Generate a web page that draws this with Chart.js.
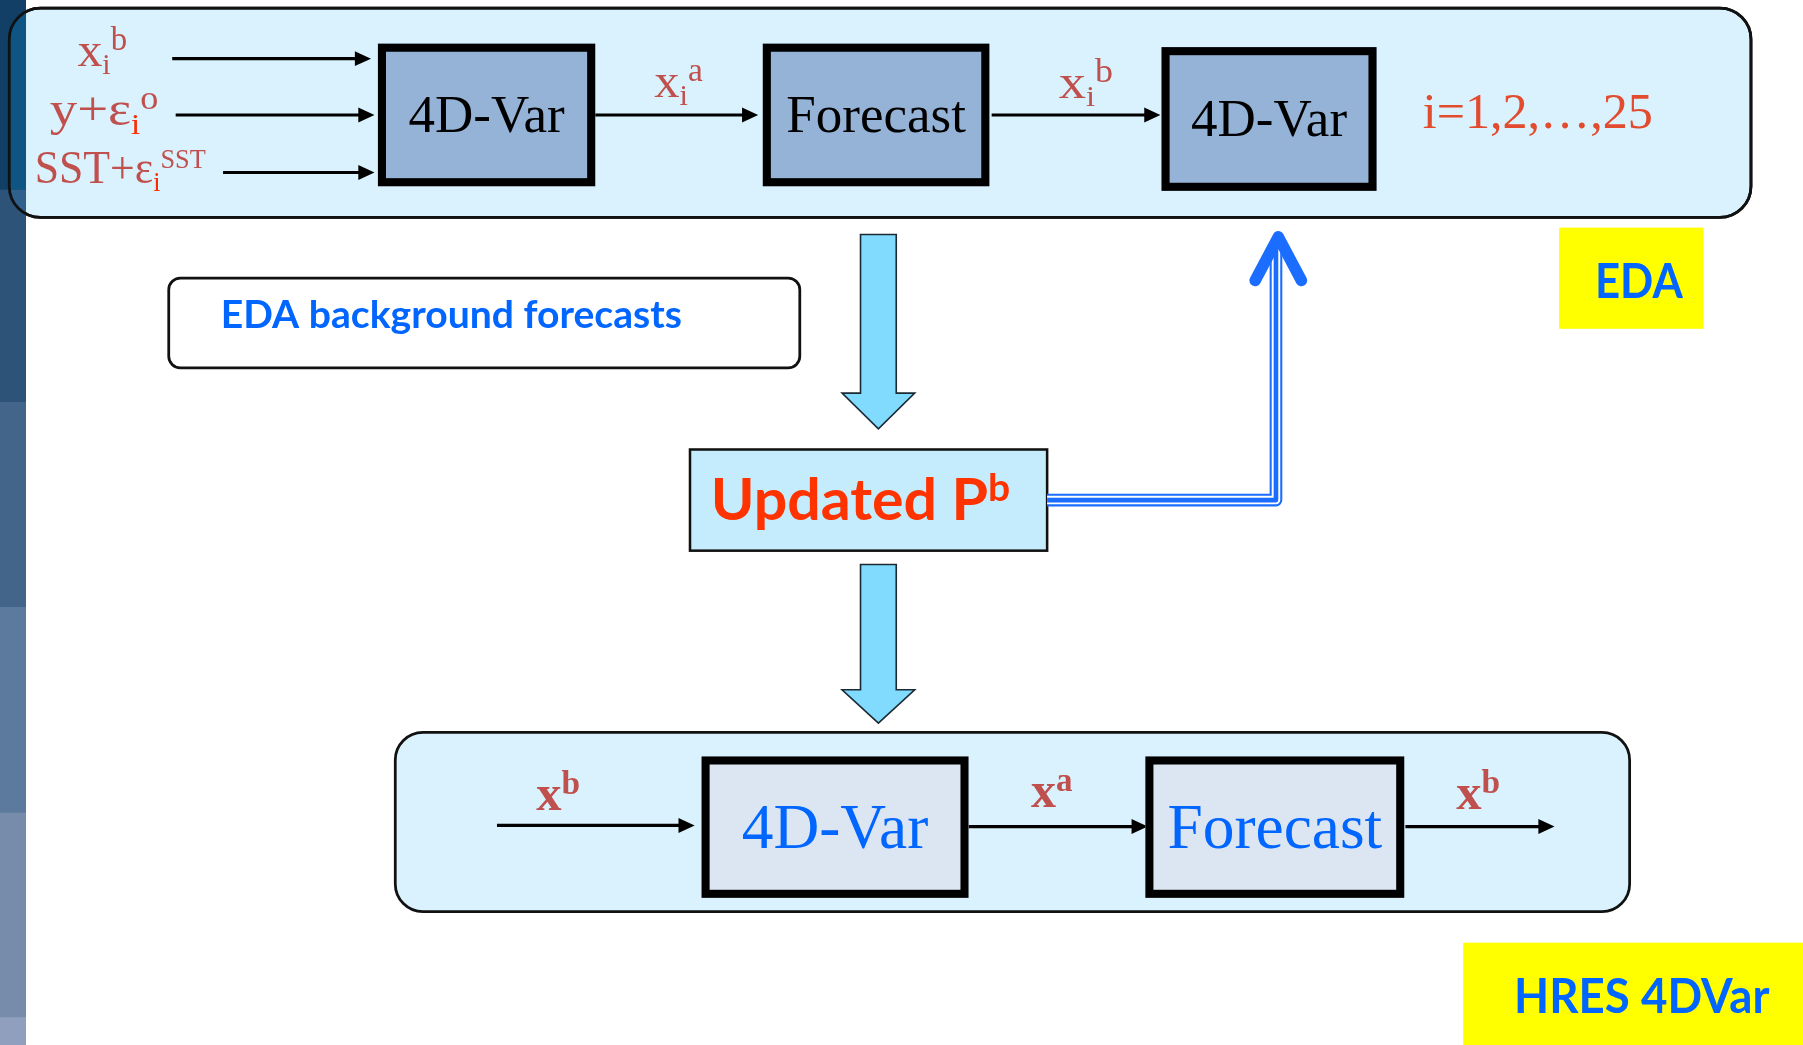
<!DOCTYPE html>
<html><head><meta charset="utf-8">
<script src="https://cdn.jsdelivr.net/npm/chart.js@4"></script>
<style>html,body{margin:0;padding:0;background:#fff;overflow:hidden}#wrap{width:1803px;height:1045px;position:relative}</style>
</head><body><div id="wrap"><canvas id="c"></canvas></div>
<script>
// ---- diagram data (reference units: 1560 x 909) ----
const extentX = [0, 1560];
const extentY = [0, 909];

// rounded containers: EDA panel, note box, HRES panel
const panelNames = ['EDA', 'note', 'HRES'];
const panelX0 = [8, 146, 342];
const panelX1 = [1515, 692, 1410];
const panelY0 = [7, 242, 637];
const panelY1 = [189, 320, 793];

// process boxes
const procLabels = ['4D-Var', 'Forecast', '4D-Var', '4D-Var', 'Forecast'];
const procX0 = [327, 660, 1005, 607, 991];
const procX1 = [515, 856, 1191, 838, 1215];
const procY0 = [38, 38, 41, 658, 658];
const procY1 = [162, 162, 166, 781, 781];

// thin flow arrows
const flowX0 = [149, 152, 193, 515, 858, 430, 838, 1216];
const flowX1 = [321, 324, 324, 656, 1004, 601, 993, 1345];
const flowY  = [51, 100, 150, 100, 100, 718, 719, 719];

// variable labels (base, subscript, superscript)
const varBase = ['x', 'y+ε', 'SST+ε', 'x', 'x', 'x', 'x', 'x'];
const varSub  = ['i', 'i', 'i', 'i', 'i', '', '', ''];
const varSup  = ['b', 'o', 'SST', 'a', 'b', 'b', 'a', 'b'];
const varX    = [67, 43, 30, 566, 916, 464, 892, 1260];
const varY    = [57, 109, 159, 84, 85, 705, 702, 704];
const varW    = [43, 94, 148, 42, 47, 38, 36, 38];

// ensemble member text
const memberText = 'i=1,2,…,25';
const memberPos = [1231, 111, 1430];

// block arrows (centre x, top, neck, tip)
const blockCX = [760, 760];
const blockTop = [204, 491];
const blockNeck = [342, 600];
const blockTip = [373, 629];

// updated Pb box
const pbBox = [597, 391, 906, 479];

// triple-line feedback path
const fbX = [906, 1104, 1104];
const fbY = [435, 435, 214];
const chevX = [1086, 1106, 1126];
const chevY = [244, 206, 244];

// yellow tags
const tagLabels = ['EDA', 'HRES 4DVar'];
const tagX0 = [1349, 1266];
const tagX1 = [1474, 1560];
const tagY0 = [198, 820];
const tagY1 = [286, 909];
const tagTextX = [1380, 1310];
const tagTextY = [259, 881];
const tagTextW = [76, 221];

// left decorative strip bands
const stripBands = [0, 165, 350, 528, 707, 885, 909];

const diagram = {
  id: 'diagram',
  afterDraw(chart) {
    const ctx = chart.ctx;
    const xs = chart.scales.x, ys = chart.scales.y;
    const X = v => xs.getPixelForValue(v);
    const Y = v => ys.getPixelForValue(v);
    const k = (chart.chartArea.width / 1560 + chart.chartArea.height / 909) / 2;
    const serif = '"Liberation Serif", "Times New Roman", serif';
    const sans = 'Lato, "Open Sans", sans-serif';

    function rrect(x0, y0, x1, y1, r) {
      ctx.beginPath();
      ctx.moveTo(x0 + r, y0);
      ctx.lineTo(x1 - r, y0);
      ctx.arcTo(x1, y0, x1, y0 + r, r);
      ctx.lineTo(x1, y1 - r);
      ctx.arcTo(x1, y1, x1 - r, y1, r);
      ctx.lineTo(x0 + r, y1);
      ctx.arcTo(x0, y1, x0, y1 - r, r);
      ctx.lineTo(x0, y0 + r);
      ctx.arcTo(x0, y0, x0 + r, y0, r);
      ctx.closePath();
    }

    function rich(x, y, parts, family, weight, size, fitW, supScale) {
      const ss = supScale || 0.66;
      let w = 0;
      const items = parts.map(p => {
        const s = p[1] === 'n' ? size : (p[1] === 'sup' ? size * ss : size * 0.6);
        ctx.font = `${weight} ${s}px ${family}`;
        const m = ctx.measureText(p[0]).width;
        const it = { t: p[0], k: p[1], c: p[2], s, m, x: w };
        w += m;
        return it;
      });
      ctx.save();
      ctx.translate(x, y);
      if (fitW) {
        let f = fitW / w;
        f = Math.max(0.8, Math.min(1.2, f));
        ctx.scale(f, 1);
      }
      ctx.textBaseline = 'alphabetic';
      ctx.textAlign = 'left';
      items.forEach(it => {
        ctx.font = `${weight} ${it.s}px ${family}`;
        ctx.fillStyle = it.c;
        let dy = 0;
        if (it.k === 'sup') dy = -size * 0.32;
        if (it.k === 'sub') dy = size * 0.17;
        ctx.fillText(it.t, it.x, dy);
      });
      ctx.restore();
    }

    ctx.save();
    // ---- panels ----
    const panelFill = ['#d9f2fd', '#ffffff', '#d9f2fd'];
    const panelR = [27, 10, 24];
    for (let i = 0; i < panelNames.length; i++) {
      rrect(X(panelX0[i]), Y(panelY0[i]), X(panelX1[i]), Y(panelY1[i]), panelR[i] * k);
      ctx.fillStyle = panelFill[i];
      ctx.fill();
      ctx.lineWidth = 2.4 * k;
      ctx.strokeStyle = '#111';
      ctx.stroke();
    }

    // ---- left strip ----
    const bandCol = ['#123f66', '#2d5478', '#44658a', '#5c7a9e', '#778bab', '#909fbe'];
    const sw = X(22.5);
    for (let b = 0; b < bandCol.length; b++) {
      ctx.fillStyle = bandCol[b];
      ctx.fillRect(0, Y(stripBands[b]), sw, Y(stripBands[b + 1]) - Y(stripBands[b]) + 0.5);
    }
    ctx.save();
    rrect(X(panelX0[0]), Y(panelY0[0]), X(panelX1[0]), Y(panelY1[0]), panelR[0] * k);
    ctx.clip();
    ctx.fillStyle = '#0e5583';
    ctx.fillRect(0, Y(panelY0[0]), sw, Y(stripBands[1]) - Y(panelY0[0]));
    ctx.fillStyle = '#2f618c';
    ctx.fillRect(0, Y(stripBands[1]), sw, Y(panelY1[0]) - Y(stripBands[1]));
    ctx.restore();
    rrect(X(panelX0[0]), Y(panelY0[0]), X(panelX1[0]), Y(panelY1[0]), panelR[0] * k);
    ctx.lineWidth = 2.4 * k;
    ctx.strokeStyle = '#111';
    ctx.stroke();

    // ---- thin flow arrows ----
    for (let i = 0; i < flowX0.length; i++) {
      const hl = 14 * k, hw = 6.5 * k;
      const x0 = X(flowX0[i]), x1 = X(flowX1[i]), y = Y(flowY[i]);
      ctx.beginPath();
      ctx.moveTo(x0, y);
      ctx.lineTo(x1 - hl + 1, y);
      ctx.lineWidth = 2.7 * k;
      ctx.strokeStyle = '#000';
      ctx.stroke();
      ctx.beginPath();
      ctx.moveTo(x1, y);
      ctx.lineTo(x1 - hl, y - hw);
      ctx.lineTo(x1 - hl, y + hw);
      ctx.closePath();
      ctx.fillStyle = '#000';
      ctx.fill();
    }

    // ---- process boxes ----
    for (let i = 0; i < procLabels.length; i++) {
      const top = i < 3;
      const lw = 7 * k;
      const x0 = X(procX0[i]), x1 = X(procX1[i]), y0 = Y(procY0[i]), y1 = Y(procY1[i]);
      ctx.fillStyle = top ? '#95b3d7' : '#dce6f2';
      ctx.fillRect(x0, y0, x1 - x0, y1 - y0);
      ctx.lineWidth = lw;
      ctx.strokeStyle = '#000';
      ctx.strokeRect(x0 + lw / 2, y0 + lw / 2, x1 - x0 - lw, y1 - y0 - lw);
      const size = (top ? 46 : 55) * k;
      ctx.font = `${size}px ${serif}`;
      ctx.fillStyle = top ? '#000' : '#0066ff';
      ctx.textAlign = 'center';
      ctx.textBaseline = 'alphabetic';
      ctx.fillText(procLabels[i], (x0 + x1) / 2, (y0 + y1) / 2 + size * 0.33);
    }

    // ---- variable labels ----
    for (let i = 0; i < varBase.length; i++) {
      const bottom = i >= 5;
      const red = '#c0504d';
      const subCol = (i === 1 || i === 2) ? '#ff2a00' : red;
      const parts = [[varBase[i], 'n', red]];
      if (varSub[i]) parts.push([varSub[i], 'sub', subCol]);
      if (varSup[i]) parts.push([varSup[i], 'sup', red]);
      const size = (bottom ? 44 : (i === 2 ? 41 : 43)) * k;
      rich(X(varX[i]), Y(varY[i]), parts, serif, bottom ? 'bold' : 'normal', size,
           X(varX[i] + varW[i]) - X(varX[i]), i === 2 ? 0.6 : 0.66);
    }

    // member text
    ctx.font = `${44 * k}px ${serif}`;
    ctx.fillStyle = '#e34b2f';
    ctx.textAlign = 'left';
    ctx.textBaseline = 'alphabetic';
    ctx.fillText(memberText, X(memberPos[0]), Y(memberPos[1]), X(memberPos[2]) - X(memberPos[0]));

    // ---- note text ----
    rich(X(191), Y(285), [['EDA background forecasts', 'n', '#0066ff']], sans, 'bold', 33 * k, X(590) - X(191));

    // ---- block arrows ----
    for (let i = 0; i < blockCX.length; i++) {
      const cx = X(blockCX[i]), sh = 15.5 * k, hh = 31.5 * k;
      ctx.beginPath();
      ctx.moveTo(cx - sh, Y(blockTop[i]));
      ctx.lineTo(cx + sh, Y(blockTop[i]));
      ctx.lineTo(cx + sh, Y(blockNeck[i]));
      ctx.lineTo(cx + hh, Y(blockNeck[i]));
      ctx.lineTo(cx, Y(blockTip[i]));
      ctx.lineTo(cx - hh, Y(blockNeck[i]));
      ctx.lineTo(cx - sh, Y(blockNeck[i]));
      ctx.closePath();
      ctx.fillStyle = '#80dbff';
      ctx.fill();
      ctx.lineWidth = 1.4 * k;
      ctx.strokeStyle = '#1c2a33';
      ctx.stroke();
    }

    // ---- updated Pb box ----
    ctx.fillStyle = '#c5ecfc';
    ctx.fillRect(X(pbBox[0]), Y(pbBox[1]), X(pbBox[2]) - X(pbBox[0]), Y(pbBox[3]) - Y(pbBox[1]));
    ctx.lineWidth = 2.2 * k;
    ctx.strokeStyle = '#111';
    ctx.strokeRect(X(pbBox[0]), Y(pbBox[1]), X(pbBox[2]) - X(pbBox[0]), Y(pbBox[3]) - Y(pbBox[1]));
    rich(X(615), Y(452), [['Updated P', 'n', '#ff3300'], ['b', 'sup', '#ff3300']], sans, 'bold', 50 * k, X(874) - X(615));

    // ---- triple-line feedback ----
    const fbPath = () => {
      ctx.beginPath();
      ctx.moveTo(X(fbX[0]), Y(fbY[0]));
      for (let i = 1; i < fbX.length; i++) ctx.lineTo(X(fbX[i]), Y(fbY[i]));
    };
    ctx.lineJoin = 'round';
    ctx.lineCap = 'butt';
    fbPath(); ctx.lineWidth = 11 * k; ctx.strokeStyle = '#1a6dff'; ctx.stroke();
    fbPath(); ctx.lineWidth = 7.4 * k; ctx.strokeStyle = '#ffffff'; ctx.stroke();
    fbPath(); ctx.lineWidth = 4 * k; ctx.strokeStyle = '#1a6dff'; ctx.stroke();
    ctx.beginPath();
    ctx.moveTo(X(chevX[0]), Y(chevY[0]));
    ctx.lineTo(X(chevX[1]), Y(chevY[1]));
    ctx.lineTo(X(chevX[2]), Y(chevY[2]));
    ctx.lineWidth = 10 * k;
    ctx.lineCap = 'round';
    ctx.lineJoin = 'round';
    ctx.strokeStyle = '#1a6dff';
    ctx.stroke();
    ctx.beginPath();
    ctx.moveTo(X(chevX[1]), Y(chevY[1]) - 3 * k);
    ctx.lineTo(X(chevX[1]) - 7 * k, Y(chevY[1]) + 10 * k);
    ctx.lineTo(X(chevX[1]) + 7 * k, Y(chevY[1]) + 10 * k);
    ctx.closePath();
    ctx.fillStyle = '#1a6dff';
    ctx.fill();

    // ---- yellow tags ----
    for (let i = 0; i < tagLabels.length; i++) {
      ctx.fillStyle = '#ffff00';
      ctx.fillRect(X(tagX0[i]), Y(tagY0[i]), X(tagX1[i]) - X(tagX0[i]), Y(tagY1[i]) - Y(tagY0[i]));
      rich(X(tagTextX[i]), Y(tagTextY[i]), [[tagLabels[i], 'n', '#0066ff']], sans, 'bold', 41 * k, X(tagTextX[i] + tagTextW[i]) - X(tagTextX[i]));
    }
    ctx.restore();
  }
};

new Chart(document.getElementById('c'), {
  type: 'scatter',
  data: { datasets: [{ data: [], pointRadius: 0 }] },
  options: {
    responsive: true,
    maintainAspectRatio: false,
    animation: false,
    layout: { padding: 0 },
    plugins: { legend: { display: false }, tooltip: { enabled: false } },
    scales: {
      x: { type: 'linear', min: extentX[0], max: extentX[1], display: false },
      y: { type: 'linear', min: extentY[0], max: extentY[1], reverse: true, display: false }
    }
  },
  plugins: [diagram]
});
</script>
</body></html>
